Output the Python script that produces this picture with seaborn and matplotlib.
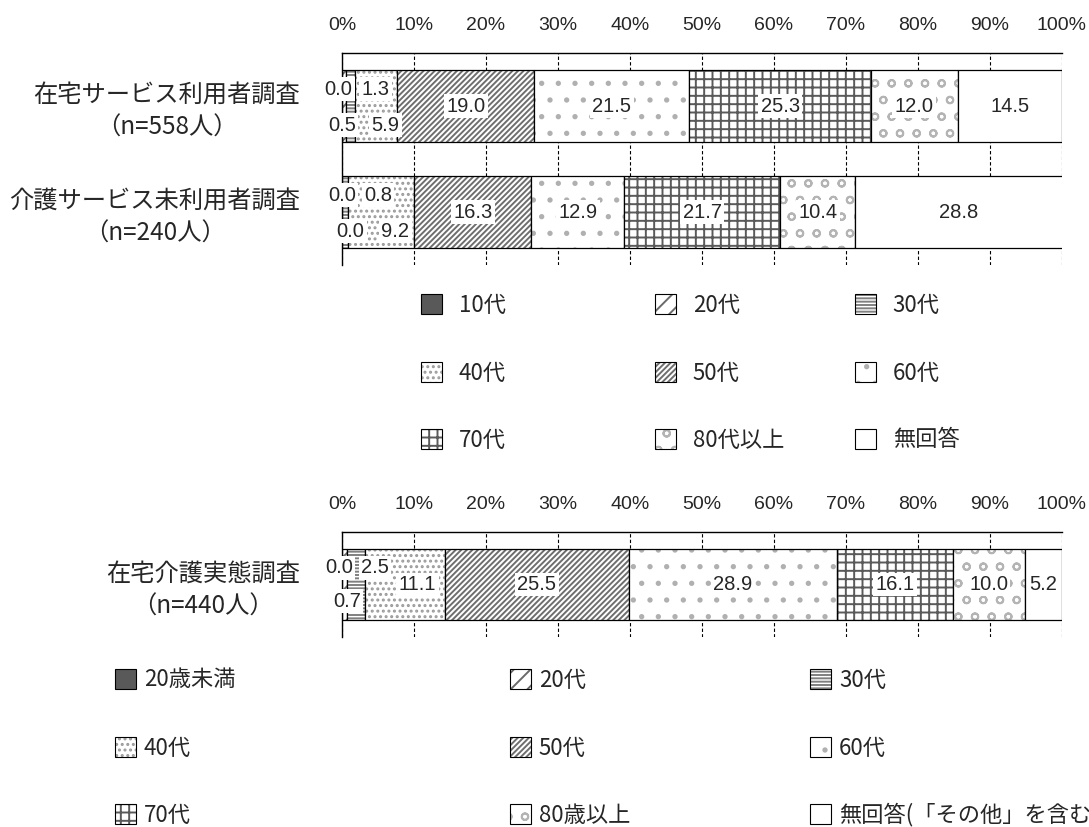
import numpy as np
import matplotlib
matplotlib.use("Agg")
import matplotlib.pyplot as plt
import matplotlib.patches as mpatches
import matplotlib.colors as mcolors
import seaborn as sns

# ---------------- data ----------------
surveys_top = ["在宅サービス利用者調査\n（n=558人）", "介護サービス未利用者調査\n（n=240人）"]
ages_top = ["10代", "20代", "30代", "40代", "50代", "60代", "70代", "80代以上", "無回答"]
values_service_users = [0.0, 0.5, 1.3, 5.9, 19.0, 21.5, 25.3, 12.0, 14.5]
values_non_users = [0.0, 0.0, 0.8, 9.2, 16.3, 12.9, 21.7, 10.4, 28.8]

surveys_bottom = ["在宅介護実態調査\n（n=440人）"]
ages_bottom = ["20歳未満", "20代", "30代", "40代", "50代", "60代", "70代", "80歳以上",
               "無回答(「その他」を含む)"]
values_home_care = [0.0, 0.7, 2.5, 11.1, 25.5, 28.9, 16.1, 10.0, 5.2]

xticks = [0, 10, 20, 30, 40, 50, 60, 70, 80, 90, 100]
xtick_labels = ["0%", "10%", "20%", "30%", "40%", "50%", "60%", "70%", "80%", "90%", "100%"]

# ---------------- styles ----------------
# (facecolor, hatch, hatch colour) per age band
STYLES = [
    ("#595959", None, "#595959"),
    ("white", "//", "#6a6a6a"),
    ("white", "-----", "#808080"),
    ("white", "...", "#9a9a9a"),
    ("white", "//////", "#6e6e6e"),
    ("white", ".", "#b0b0b0"),
    ("white", "++", "#5a5a5a"),
    ("white", "o", "#b4b4b4"),
    ("white", None, "black"),
]
BAR_W = 0.67
W, H = 1089, 827
NUM_FONT = ["Liberation Sans", "DejaVu Sans"]
TICK_FONT = ["Liberation Sans Narrow", "Liberation Sans", "DejaVu Sans"]

sns.set_style("white")
plt.rcParams["font.family"] = ["Noto Sans CJK JP", "DejaVu Sans"]
plt.rcParams["hatch.linewidth"] = 1.4


def set_hatch_color(p, c):
    if hasattr(p, "set_hatchcolor"):
        p.set_hatchcolor(c)
    else:
        p._hatch_color = mcolors.to_rgba(c)


def draw_stack(ax, surveys, rows, label_pos):
    mat = np.array(rows, dtype=float)
    lefts = np.zeros(len(surveys))
    for j in range(mat.shape[1]):
        fc, hatch, hc = STYLES[j]
        n0 = len(ax.patches)
        kw = dict(hatch=hatch) if hatch else {}
        sns.barplot(x=mat[:, j], y=surveys, orient="y", ax=ax, color=fc,
                    saturation=1, width=BAR_W, errorbar=None,
                    left=lefts.copy(), edgecolor="black", linewidth=0.9,
                    zorder=2, **kw)
        for p in ax.patches[n0:]:
            set_hatch_color(p, hc)
        for i in range(len(surveys)):
            v = mat[i, j]
            x, dy = label_pos.get((i, j), (lefts[i] + v / 2, 0.0))
            ax.text(x, i + dy, f"{v:.1f}", ha="center", va="center",
                    fontsize=14.5, family=NUM_FONT, zorder=5,
                    bbox=dict(boxstyle="square,pad=0.12", fc="white", ec="none"))
        lefts += mat[:, j]


def style_axis(ax, ylim):
    ax.set_xlim(0, 100)
    ax.set_ylim(*ylim)
    ax.set_xlabel("")
    ax.set_ylabel("")
    ax.xaxis.tick_top()
    ax.set_xticks(xticks, labels=xtick_labels)
    ax.tick_params(axis="x", length=0, pad=14, labelsize=14)
    ax.tick_params(axis="y", length=0, pad=30, labelsize=17.5)
    for lab in ax.get_xticklabels():
        lab.set_fontfamily(TICK_FONT)
    for lab in ax.get_yticklabels():
        lab.set_multialignment("center")
        lab.set_linespacing(1.3)
    ax.grid(axis="x", color="black", linestyle=(0, (3, 2)), linewidth=0.8)
    ax.grid(axis="y", visible=False)
    ax.set_axisbelow(True)
    for s in ["right", "bottom"]:
        ax.spines[s].set_visible(False)
    for s in ["left", "top"]:
        ax.spines[s].set_visible(True)
        ax.spines[s].set_color("black")
        ax.spines[s].set_linewidth(1.0)


def place_legend(fig, ages, cols_x, rows_y, textpad):
    for k, age in enumerate(ages):
        r, c = divmod(k, 3)
        fc, hatch, hc = STYLES[k]
        h = mpatches.Patch(facecolor=fc, edgecolor="black", hatch=hatch, linewidth=0.8)
        set_hatch_color(h, hc)
        fig.legend(handles=[h], labels=[age], loc="center left",
                   bbox_to_anchor=(cols_x[c] / W, 1 - rows_y[r] / H),
                   frameon=False, borderpad=0, borderaxespad=0,
                   handlelength=0.95, handleheight=1.0, handletextpad=textpad,
                   prop={"size": 16})


fig = plt.figure(figsize=(W / 100, H / 100), dpi=100)
fig.patch.set_facecolor("white")

ax1 = fig.add_axes([342 / W, 1 - 265 / H, 720 / W, 212 / H])
ax2 = fig.add_axes([342 / W, 1 - 637 / H, 720 / W, 105 / H])

label_pos_top = {
    (0, 0): (-0.5, -0.16), (0, 1): (0.0, 0.18), (0, 2): (4.6, -0.16), (0, 3): (6.0, 0.18),
    (1, 0): (0.0, -0.16), (1, 1): (1.2, 0.18), (1, 2): (5.0, -0.16), (1, 3): (7.4, 0.18),
}
label_pos_bottom = {
    (0, 0): (-0.4, -0.16), (0, 1): (0.7, 0.16), (0, 2): (4.6, -0.16), (0, 3): (10.5, 0.0),
}

draw_stack(ax1, surveys_top, [values_service_users, values_non_users], label_pos_top)
style_axis(ax1, (1.5, -0.5))
draw_stack(ax2, surveys_bottom, [values_home_care], label_pos_bottom)
style_axis(ax2, (0.5, -0.5))

place_legend(fig, ages_top, [421, 655, 855], [305, 373, 440], 0.75)
place_legend(fig, ages_bottom, [115, 510, 810], [680, 748, 815], 0.35)

fig.savefig("out.png", dpi=100, facecolor="white")
